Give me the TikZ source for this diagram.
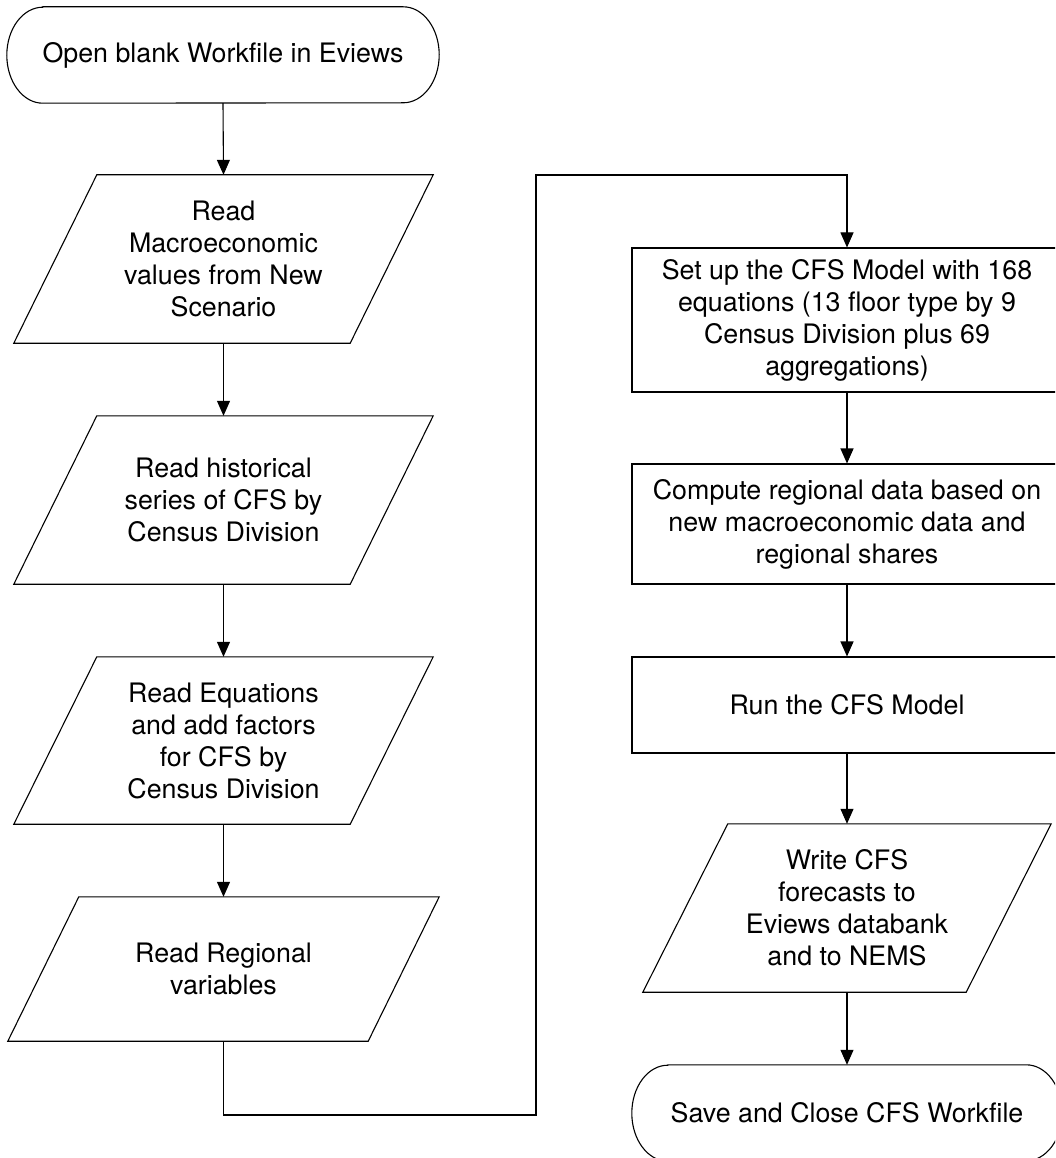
\documentclass[tikz,border=0pt]{standalone}
\usepackage{fontspec}
\setmainfont{TeX Gyre Heros}
\usetikzlibrary{calc,arrows.meta}
\newcommand\ioshape[2]{\draw[shapeline] ($(#1.north west)+(#2,0)$) -- (#1.north east) -- ($(#1.south east)+(-#2,0)$) -- (#1.south west) -- cycle;}
\newcommand\termshape[1]{\draw[shapeline] ($(#1.north west)+(36,0)$) -- ($(#1.north east)+(-36,0)$) arc[start angle=-90, end angle=90, x radius=36, y radius=48] -- ($(#1.south west)+(36,0)$) arc[start angle=90, end angle=270, x radius=36, y radius=48] -- cycle;}
\tikzset{
  box/.style={draw=none, inner sep=0pt, align=center, font=\fontsize{26.8}{32}\selectfont},
  procbox/.style={box, draw, line width=1.1pt},
  shapeline/.style={line width=1.1pt},
  arr/.style={line width=1.1pt, -{Triangle[length=15pt,width=13pt]}},
  conn/.style={line width=1.1pt}
}
\begin{document}
\begin{tikzpicture}[x=1pt,y=-1pt]
\useasboundingbox (0,0) rectangle (1055,1158);
\clip (0,0) rectangle (1055,1158);
% left column
\node[box, minimum width=432pt, minimum height=96pt] (start) at (223,55) {Open blank Workfile in Eviews};
\termshape{start}
\node[box, minimum width=419pt, minimum height=168pt] (p1) at (223.5,259) {Read\\Macroeconomic\\values from New\\Scenario};
\ioshape{p1}{83}
\node[box, minimum width=419pt, minimum height=168pt] (p2) at (223.5,500) {Read historical\\series of CFS by\\Census Division};
\ioshape{p2}{83}
\node[box, minimum width=419pt, minimum height=167pt] (p3) at (223.5,740.5) {Read Equations\\and add factors\\for CFS by\\Census Division};
\ioshape{p3}{83}
\node[box, minimum width=431pt, minimum height=144pt] (p4) at (223.5,969) {Read Regional\\variables};
\ioshape{p4}{71}
% right column
\node[procbox, minimum width=430pt, minimum height=144pt] (r1) at (847,320) {Set up the CFS Model with 168\\equations (13 floor type by 9\\Census Division plus 69\\aggregations)};
\node[procbox, minimum width=430pt, minimum height=120pt] (r2) at (847,524) {Compute regional data based on\\new macroeconomic data and\\regional shares};
\node[procbox, minimum width=430pt, minimum height=96pt] (r3) at (847,705) {Run the CFS Model};
\node[box, minimum width=408pt, minimum height=168pt] (p5) at (847,908) {Write CFS\\forecasts to\\Eviews databank\\and to NEMS};
\ioshape{p5}{85}
\node[box, minimum width=430pt, minimum height=96pt] (end) at (847,1113) {Save and Close CFS Workfile};
\termshape{end}
% connectors
\draw[arr] (start.south) -- (p1.north);
\draw[arr] (p1.south) -- (p2.north);
\draw[arr] (p2.south) -- (p3.north);
\draw[arr] (p3.south) -- (p4.north);
\coordinate (c1) at (223.5,1115);
\coordinate (c2) at (536,1115);
\coordinate (c3) at (536,175);
\coordinate (c4) at (847,175);
\draw[arr] (p4.south) -- (c1) -- (c2) -- (c3) -- (c4) -- (r1.north);
\draw[arr] (r1.south) -- (r2.north);
\draw[arr] (r2.south) -- (r3.north);
\draw[arr] (r3.south) -- (p5.north);
\draw[arr] (p5.south) -- (end.north);
\end{tikzpicture}
\end{document}
